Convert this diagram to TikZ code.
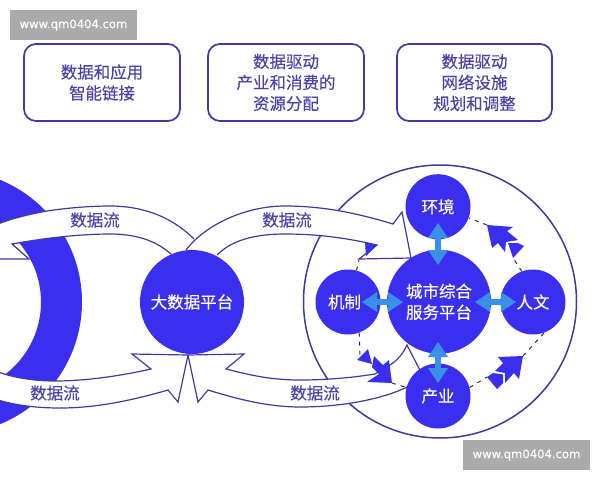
\documentclass[tikz,border=0pt]{standalone}
\usepackage{fontspec}
\setmainfont{Noto Sans CJK SC}[FakeBold=0.25]
\newfontfamily\wmfont{DejaVu Sans}[FakeBold=0.2]
\definecolor{disc}{HTML}{3A2FEF}
\definecolor{edge}{HTML}{3F3A9E}
\definecolor{ink}{HTML}{4A43A8}
\definecolor{sky}{HTML}{3A90E8}
\definecolor{wm}{HTML}{ABABAB}
\tikzset{
 x=1pt,y=-1pt,
 infobox/.style={draw=edge,line width=1.7pt,rounded corners=12pt,minimum height=77pt,align=center,font=\fontsize{16.5}{21}\selectfont,text=ink,inner sep=0pt},
 bigdisc/.style={circle,fill=disc,minimum size=104pt,inner sep=0pt,text=white,align=center,font=\fontsize{16.5}{21}\selectfont},
 smalldisc/.style={circle,fill=disc,minimum size=65pt,inner sep=0pt,text=white,font=\fontsize{16.5}{20}\selectfont},
 band/.style={draw=edge,fill=white,line width=1.2pt,line join=miter},
 lbl/.style={text=ink,font=\fontsize{16.5}{20}\selectfont,inner sep=0pt},
 wmbox/.style={fill=wm,text=white,minimum width=127pt,minimum height=30pt,inner sep=0pt,font=\wmfont\fontsize{11.6}{14}\selectfont},
 dashline/.style={draw=edge!70!black,line width=1pt,dash pattern=on 4pt off 5pt},
 flowshape/.style={fill=disc,draw=none},
 linkshaft/.style={sky,line width=6.5pt},
 linkhead/.style={fill=sky,draw=none},
}
\begin{document}
\begin{tikzpicture}
\useasboundingbox (0,0) rectangle (600,480);
\fill[white] (0,0) rectangle (600,480);
% left ring
\begin{scope}
\clip (0,0) rectangle (600,480);
\fill[disc,even odd rule] (-50,302) circle[radius=132] (-50,302) circle[radius=91];
\end{scope}
% outer circle
\draw[edge,line width=1.5pt] (440,301.5) circle[radius=136.5];
% top-left band
\begin{scope}
\clip (0,0) rectangle (600,480);
\draw[band] (194,239) .. controls (170,215) and (140,206) .. (110,206) .. controls (85,206) and (60,209) .. (47,211) .. controls (30,214) and (10,219) .. (-2,224)
 -- (-2,259) -- (29,259) -- (12,244) .. controls (50,237) and (85,234) .. (110,234) .. controls (135,234) and (155,240) .. (171,254);
\end{scope}
% top-right band
\draw[band] (186,250) .. controls (205,225) and (245,206) .. (285,206) .. controls (325,206) and (360,214) .. (393,224) -- (402,212) -- (411,258) -- (359,259) -- (377,245) .. controls (355,240) and (325,234) .. (285,234) .. controls (255,234) and (232,240) .. (217,255);
% bottom-left band
\begin{scope}
\clip (0,0) rectangle (600,480);
\draw[band] (188,355) -- (132,354) -- (151,369) .. controls (120,376) and (85,381) .. (55,381) .. controls (35,381) and (15,378) .. (-2,372)
 -- (-2,400) .. controls (15,405) and (35,408) .. (60,408) .. controls (95,408) and (130,401) .. (168,390) -- (178,402) -- cycle;
\end{scope}
% bottom-right band
\draw[band] (188,355) -- (244,354) -- (226,369) .. controls (250,375) and (270,380) .. (300,380) .. controls (325,380) and (350,378) .. (375,374) -- (390,365) .. controls (398,360) and (404,352) .. (407,345) -- (425,380) -- (407,387) .. controls (385,398) and (345,407) .. (300,407) .. controls (270,407) and (240,400) .. (208,390) -- (198,402) -- cycle;
% discs
\node[bigdisc] (platform) at (192,302) {大数据平台};
\node[bigdisc] (city) at (439,301.7) {城市综合\\服务平台};
\node[smalldisc] (env) at (438,206.7) {\raisebox{1pt}{环境}};
\node[smalldisc] (ind) at (438,396) {\raisebox{-2pt}{产业}};
\node[smalldisc] (mech) at (348,302) {\kern-7pt 机制};
\node[smalldisc] (hum) at (533,302) {人文};
% dashes
\coordinate (tipa) at (487,225); \coordinate (tipb) at (523,356); \coordinate (tipc) at (392,383); \coordinate (tipd) at (359,260); \coordinate (taila) at (513,258);
\coordinate (tailb) at (487,377); \coordinate (tailc) at (360,355);
\draw[dashline] (hum.110) -- (taila);
\draw[dashline] (tipa) -- (env.-20);
\draw[dashline] (ind.15) -- (tailb);
\draw[dashline] (tipb) -- (hum.-70);
\draw[dashline] (mech.-70) -- (tailc);
\draw[dashline] (tipc) -- (ind.165);
\draw[dashline] (mech.75) -- (tipd);
% flow arrows
\fill[flowshape] (365,242) -- (377,245) -- (366,256) -- cycle;
\fill[flowshape] (392,383) -- (389,360) -- (383,365) -- (374,356) -- (372,367) -- (379,374) -- (367,382) -- cycle;
\fill[flowshape] (357,360) -- (368,349) -- (372,364) -- cycle;
\fill[flowshape] (523,356) -- (498,357) -- (503,363) -- (495,371) -- (505,373) -- (505,383) -- (514,373) -- (519,379) -- cycle;
\fill[flowshape] (487,377) -- (493,373) -- (503,374.5) -- (503,383) -- (497,389) -- cycle;
\fill[flowshape] (487,225) -- (513,227) -- (507,231) -- (518,240) -- (506,242) -- (505,252) -- (498,243) -- (492,248) -- cycle;
\fill[flowshape] (508,243) -- (518,243) -- (524,246) -- (513,258) -- cycle;
% links
\draw[linkshaft] (438,235) -- (438,255);
\draw[linkshaft] (438,352) -- (438,372);
\draw[linkshaft] (375,302) -- (392,302);
\draw[linkshaft] (488,302) -- (504,302);
\fill[linkhead] (438,223) -- (448,238) -- (428,238) -- cycle;
\fill[linkhead] (438,265) -- (448,250) -- (428,250) -- cycle;
\fill[linkhead] (438,342) -- (448,357) -- (428,357) -- cycle;
\fill[linkhead] (438,383) -- (448,368) -- (428,368) -- cycle;
\fill[linkhead] (362,302) -- (377,292) -- (377,312) -- cycle;
\fill[linkhead] (403,302) -- (388,292) -- (388,312) -- cycle;
\fill[linkhead] (475,302) -- (490,292) -- (490,312) -- cycle;
\fill[linkhead] (516,302) -- (501,292) -- (501,312) -- cycle;
% labels
\node[lbl] (f1) at (95,220) {数据流};
\node[lbl] (f2) at (287,220) {数据流};
\node[lbl] (f3) at (55,393) {数据流};
\node[lbl] (f4) at (315,393) {数据流};
% boxes
\node[infobox,minimum width=156pt] (b1) at (102,82.5) {数据和应用\\智能链接};
\node[infobox,minimum width=156pt] (b2) at (286,82.5) {数据驱动\\产业和消费的\\资源分配};
\node[infobox,minimum width=155pt] (b3) at (474.5,82.5) {数据驱动\\网络设施\\规划和调整};
% watermarks
\node[wmbox] (w1) at (73.5,25) {www.qm0404.com};
\node[wmbox] (w2) at (526.5,455) {www.qm0404.com};
\end{tikzpicture}
\end{document}
